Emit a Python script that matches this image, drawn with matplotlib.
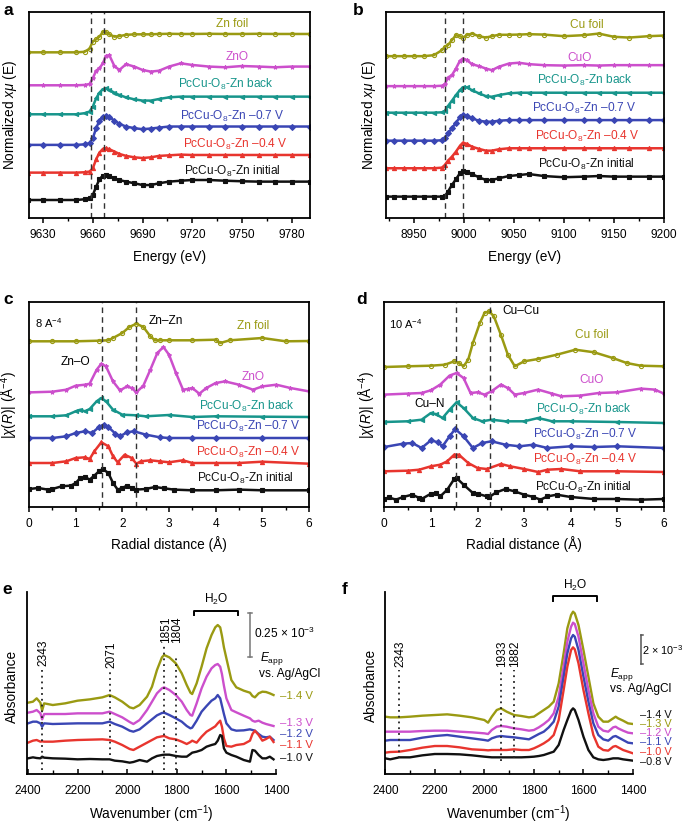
import matplotlib
matplotlib.use('Agg')
import matplotlib.pyplot as plt
from matplotlib.ticker import MultipleLocator

plt.rcParams['font.family'] = ['Liberation Sans', 'DejaVu Sans']
plt.rcParams['mathtext.fontset'] = 'custom'
plt.rcParams['mathtext.rm'] = 'Liberation Sans'
plt.rcParams['mathtext.it'] = 'Liberation Sans:italic'
plt.rcParams['mathtext.bf'] = 'Liberation Sans:bold'

OLIVE = '#9a9a12'
MAG = '#cc4fcc'
TEAL = '#17958b'
BLUE = '#3a46b4'
RED = '#e8352e'
BLACK = '#111111'

# ---------------- panel a: Zn K-edge XANES (normalized) ----------------
a_energy = [9621, 9630, 9640, 9650, 9655, 9658, 9660, 9662, 9664, 9666, 9668, 9670, 9673, 9676,
            9680, 9685, 9690, 9695, 9700, 9706, 9713, 9720, 9730, 9740, 9750, 9760, 9770, 9780, 9791]
a_zn_foil = [0, 0, 0, 0, 0.03, 0.2, 0.6, 0.72, 0.87, 1.12, 1.12, 1.0, 0.87, 0.9,
             0.97, 1.0, 1.0, 1.0, 1.02, 1.03, 1.02, 1.02, 1.03, 1.02, 1.02, 1.03, 1.02, 1.02, 1.02]
a_zno = [0, 0, 0, 0, 0.02, 0.07, 0.39, 0.81, 0.94, 1.22, 1.63, 1.66, 1.07, 0.85,
         1.17, 1.04, 0.85, 0.76, 0.81, 1.04, 1.22, 1.13, 1.04, 1.0, 1.07, 1.04, 1.0, 1.04, 1.04]
a_back = [0, 0, 0, 0, 0.06, 0.15, 0.43, 0.89, 1.2, 1.39, 1.44, 1.35, 1.2, 1.07,
          0.94, 0.83, 0.76, 0.76, 0.85, 0.94, 0.98, 0.98, 0.98, 0.98, 0.98, 0.98, 0.98, 0.98, 0.98]
a_m07 = [0, 0, 0, 0, 0.03, 0.09, 0.37, 0.93, 1.35, 1.57, 1.61, 1.54, 1.35, 1.17,
         1.02, 0.93, 0.87, 0.91, 0.96, 1.02, 1.02, 1.02, 1.02, 1.02, 1.02, 1.02, 1.02, 1.02, 1.02]
a_m04 = [0, 0, 0, 0, 0.02, 0.06, 0.24, 0.74, 1.11, 1.31, 1.35, 1.3, 1.17, 1.04,
         0.93, 0.85, 0.81, 0.85, 0.93, 0.96, 1.0, 0.98, 0.98, 0.98, 0.98, 0.98, 0.98, 0.98, 0.98]
a_initial = [0, 0, 0, 0, 0.04, 0.09, 0.28, 0.74, 1.15, 1.35, 1.39, 1.33, 1.2, 1.11,
             1.02, 0.93, 0.83, 0.83, 0.93, 1.02, 1.07, 1.11, 1.11, 1.07, 1.04, 1.02, 1.02, 1.02, 1.02]

# ---------------- panel b: Cu K-edge XANES (normalized) ----------------
b_energy = [8922, 8930, 8940, 8950, 8960, 8970, 8978, 8981, 8984, 8988, 8992, 8996, 8999, 9003, 9008,
            9015, 9022, 9028, 9035, 9045, 9055, 9065, 9080, 9100, 9120, 9135, 9150, 9165, 9185, 9200]
b_cu_foil = [0, 0, 0, 0, 0, 0.05, 0.3, 0.47, 0.55, 0.8, 1.05, 1.0, 0.93, 1.05, 1.13,
             1.0, 0.93, 1.0, 1.07, 1.07, 1.08, 1.1, 1.08, 1.0, 1.05, 1.13, 0.97, 0.93, 1.0, 1.03]
b_cuo = [0, 0, 0, 0, 0, 0, 0.02, 0.1, 0.43, 0.55, 0.88, 1.27, 1.38, 1.3, 1.1,
         1.0, 0.88, 0.8, 0.97, 1.13, 1.17, 1.1, 1.05, 1.03, 1.05, 1.03, 1.05, 1.05, 1.05, 1.05]
b_back = [0, 0, 0, 0, 0, 0, 0.02, 0.1, 0.33, 0.6, 0.88, 1.13, 1.27, 1.27, 1.13,
          0.97, 0.83, 0.8, 0.88, 0.97, 1.0, 1.0, 1.0, 1.0, 1.0, 1.0, 1.0, 1.0, 1.0, 1.0]
b_m07 = [0, 0, 0, 0, 0, 0, 0.02, 0.12, 0.37, 0.62, 0.9, 1.17, 1.28, 1.23, 1.12,
         1.0, 0.95, 0.95, 1.0, 1.03, 1.03, 1.03, 1.03, 1.03, 1.03, 1.03, 1.03, 1.03, 1.03, 1.03]
b_m04 = [0, 0, 0, 0, 0, 0, 0.03, 0.17, 0.38, 0.58, 0.83, 1.12, 1.28, 1.22, 1.08,
         0.97, 0.88, 0.88, 0.95, 1.0, 1.0, 1.0, 1.0, 1.0, 1.0, 1.0, 1.0, 1.0, 1.0, 1.0]
b_initial = [0, 0, 0, 0, 0, 0, 0, 0.03, 0.25, 0.58, 0.87, 1.17, 1.3, 1.25, 1.13,
             0.97, 0.83, 0.83, 0.92, 1.03, 1.08, 1.13, 1.03, 0.97, 1.0, 1.03, 1.0, 1.0, 1.0, 1.0]

# ---------------- panel c: Zn FT-EXAFS |chi(R)| ----------------
c_zn_foil_r = [0, 0.5, 1.0, 1.5, 1.7, 1.8, 2.0, 2.15, 2.3, 2.45, 2.6, 2.7, 2.8, 3.0, 3.5, 4.0, 4.1, 4.3, 5.0, 5.5, 6.0]
c_zn_foil = [0.17, 0.17, 0.17, 0.23, 0.27, 0.5, 1.0, 1.6, 1.93, 1.6, 0.67, 0.27, 0.27, 0.27, 0.27, 0.33, 0.0, 0.27, 0.5, 0.17, 0.2]
c_zno_r = [0, 0.5, 0.8, 1.0, 1.2, 1.3, 1.45, 1.55, 1.65, 1.8, 1.95, 2.1, 2.2, 2.3, 2.45, 2.6, 2.75, 2.88, 3.0,
           3.15, 3.3, 3.4, 3.5, 3.65, 3.8, 4.0, 4.2, 4.5, 4.8, 5.0, 5.3, 5.6, 6.0]
c_zno = [0.13, 0.2, 0.4, 0.8, 0.9, 1.0, 2.4, 3.0, 2.73, 1.23, 0.33, 0.73, 0.57, 0.13, 0.8, 2.4, 4.07, 4.67, 3.9,
         2.07, 0.4, 0.47, 0.57, 0.0, 0.57, 1.07, 1.23, 0.9, 0.4, 0.73, 0.9, 0.57, 0.23]
c_back_r = [0, 0.5, 0.8, 1.0, 1.1, 1.2, 1.3, 1.45, 1.55, 1.65, 1.8, 2.0, 2.3, 2.5, 3.0, 3.5, 4.0, 5.0, 6.0]
c_back = [0.07, 0.07, 0.17, 0.57, 0.73, 0.57, 0.8, 1.57, 1.9, 1.57, 0.73, 0.23, 0.17, 0.07, 0.2, 0.0, 0.07, 0.03, 0.0]
c_m07_r = [0, 0.5, 0.8, 1.0, 1.2, 1.35, 1.5, 1.6, 1.7, 1.85, 1.95, 2.1, 2.25, 2.5, 2.8, 3.0, 3.5, 4.0, 5.0, 6.0]
c_m07 = [0.03, 0.03, 0.2, 0.53, 0.7, 0.53, 1.13, 1.37, 1.13, 0.47, 0.2, 0.6, 0.7, 0.37, 0.1, 0.03, 0.03, 0.03, 0.03, 0.03]
c_m04_r = [0, 0.5, 0.8, 1.0, 1.2, 1.3, 1.4, 1.55, 1.7, 1.8, 1.9, 2.05, 2.2, 2.3, 2.4, 2.6, 2.8, 3.0, 3.3, 3.5,
           4.0, 4.5, 5.0, 6.0]
c_m04 = [0.1, 0.1, 0.27, 0.6, 0.67, 0.5, 1.27, 2.17, 1.77, 0.77, 0.17, 0.93, 0.6, 0.03, 0.27, 0.37, 0.27, 0.17, 0.37, 0.1,
         0.1, 0.1, 0.23, 0.03]
c_initial_r = [0, 0.2, 0.4, 0.5, 0.7, 0.9, 1.0, 1.1, 1.2, 1.3, 1.4, 1.5, 1.58, 1.7, 1.8, 1.9, 2.0, 2.1, 2.2, 2.3,
               2.5, 2.7, 2.9, 3.1, 3.5, 4.0, 4.5, 5.0, 6.0]
c_initial = [0.13, 0.23, 0.07, 0.13, 0.4, 0.47, 0.73, 1.23, 1.33, 1.07, 1.47, 1.9, 2.13, 1.73, 0.73, 0.07, 0.23, 0.47,
             0.23, 0.07, 0.13, 0.33, 0.2, 0.07, 0.0, 0.0, 0.07, 0.0, 0.0]

# ---------------- panel d: Cu FT-EXAFS |chi(R)| ----------------
d_cu_foil_r = [0, 0.5, 1.0, 1.3, 1.5, 1.6, 1.7, 1.8, 1.9, 2.05, 2.15, 2.25, 2.35, 2.5, 2.65, 2.8, 3.0, 3.3, 3.7,
               4.1, 4.5, 4.9, 5.2, 5.5, 6.0]
d_cu_foil = [0.0, 0.07, 0.13, 0.23, 0.57, 0.4, 0.07, 0.73, 2.4, 4.4, 5.4, 5.57, 5.07, 3.23, 1.23, 0.07, 0.57, 0.8, 1.23,
             1.73, 1.47, 0.9, 0.4, 0.13, 0.07]
d_cuo_r = [0, 0.5, 0.8, 1.0, 1.2, 1.4, 1.55, 1.7, 1.85, 2.0, 2.15, 2.3, 2.5, 2.65, 2.8, 3.0, 3.3, 3.6, 3.8, 4.2,
           4.6, 5.0, 5.5, 5.8, 6.0]
d_cuo = [0.17, 0.27, 0.33, 0.6, 1.17, 2.07, 2.33, 1.83, 0.33, 0.4, 0.17, 0.5, 1.17, 0.83, 0.17, 0.33, 0.67, 0.27, 0.0, 0.07,
         0.33, 0.4, 0.77, 0.67, 0.27]
d_back_r = [0, 0.5, 0.8, 1.0, 1.1, 1.25, 1.4, 1.55, 1.7, 1.9, 2.1, 2.3, 2.6, 3.0, 3.3, 3.6, 4.0, 5.0, 6.0]
d_back = [0.1, 0.17, 0.33, 1.0, 0.9, 0.5, 1.33, 2.07, 1.5, 0.5, 0.17, 0.33, 0.17, 0.17, 0.5, 0.17, 0.17, 0.1, 0.0]
d_m07_r = [0, 0.4, 0.6, 0.8, 1.0, 1.15, 1.25, 1.4, 1.52, 1.7, 1.9, 2.1, 2.3, 2.6, 2.9, 3.2, 3.5, 4.0, 4.5, 5.0, 6.0]
d_m07 = [0.1, 0.43, 0.5, 0.0, 0.77, 0.57, 0.17, 1.17, 1.9, 1.17, 0.0, 0.5, 0.67, 0.33, 0.17, 0.33, 0.0, 0.17, 0.1, 0.17, 0.0]
d_m04_r = [0, 0.5, 0.75, 1.0, 1.2, 1.35, 1.5, 1.6, 1.8, 2.0, 2.2, 2.5, 2.7, 3.0, 3.3, 3.5, 3.8, 4.2, 5.0, 6.0]
d_m04 = [0.07, 0.13, 0.23, 0.57, 0.73, 1.07, 1.73, 1.73, 0.9, 0.4, 0.3, 0.8, 0.57, 0.3, 0.0, 0.23, 0.3, 0.07, 0.07, 0.0]
d_initial_r = [0, 0.1, 0.25, 0.4, 0.6, 0.75, 0.8, 1.0, 1.1, 1.2, 1.35, 1.5, 1.55, 1.7, 1.9, 2.0, 2.2, 2.25, 2.4,
               2.6, 2.8, 3.0, 3.2, 3.35, 3.5, 3.7, 4.0, 4.5, 5.0, 5.5, 6.0]
d_initial = [0.07, 0.23, 0.0, 0.27, 0.5, 0.17, 0.07, 0.6, 0.67, 0.33, 1.0, 2.07, 2.17, 1.5, 0.67, 0.6, 0.33, 0.27, 0.73,
             1.07, 0.83, 0.5, 0.27, 0.0, 0.33, 0.5, 0.27, 0.07, 0.07, 0.0, 0.07]

# ---------------- panel e: IR spectra (a.u., stacked) ----------------
e_wn = [2400, 2380, 2365, 2350, 2343, 2335, 2300, 2250, 2200, 2150, 2100, 2071, 2050, 2020, 1990, 1975, 1950,
        1920, 1900, 1880, 1860, 1851, 1830, 1804, 1780, 1760, 1745, 1738, 1720, 1700, 1680, 1660, 1645, 1635,
        1625, 1618, 1610, 1600, 1580, 1560, 1530, 1505, 1495, 1485, 1470, 1455, 1440, 1425, 1410]
e_m14 = [21.4, 21.7, 22.7, 21.4, 19.0, 21.2, 20.7, 21.2, 22.0, 22.4, 23.0, 23.7, 23.0, 21.7, 20.0, 19.7, 20.7,
         23.2, 26.2, 31.2, 35.0, 35.7, 35.0, 33.2, 30.2, 26.7, 24.4, 24.0, 27.2, 32.2, 37.7, 41.7, 44.0, 44.7,
         44.0, 41.5, 38.0, 34.7, 28.2, 26.0, 25.0, 24.4, 23.4, 23.0, 24.2, 24.7, 24.6, 24.2, 23.7]
e_m13 = [18.4, 18.7, 19.2, 18.2, 16.4, 18.0, 18.0, 18.0, 18.2, 18.2, 18.2, 18.7, 18.0, 17.0, 15.6, 15.0, 16.2,
         19.2, 21.7, 24.2, 25.7, 26.0, 25.2, 23.7, 21.7, 19.2, 17.7, 17.5, 21.2, 25.7, 29.2, 31.7, 32.7, 33.0,
         32.2, 30.0, 26.5, 22.7, 19.2, 18.5, 17.5, 16.7, 16.0, 15.7, 16.0, 15.4, 15.0, 14.7, 14.4]
e_m12 = [15.2, 15.7, 15.7, 15.2, 14.2, 15.2, 15.0, 15.1, 15.2, 15.2, 15.2, 15.7, 15.0, 14.2, 13.0, 12.7, 13.4,
         15.2, 16.4, 17.6, 18.3, 18.4, 17.7, 16.7, 15.7, 14.4, 13.7, 13.9, 16.0, 18.7, 20.4, 22.0, 22.7, 23.7,
         22.7, 20.5, 18.0, 15.2, 13.4, 13.0, 13.1, 13.4, 13.2, 13.0, 12.0, 11.2, 11.0, 11.2, 10.2]
e_m11 = [9.4, 10.0, 10.2, 9.7, 9.8, 9.7, 9.7, 10.0, 10.2, 10.3, 10.4, 10.2, 9.7, 8.7, 7.5, 7.2, 8.2,
         9.4, 10.2, 11.0, 11.3, 11.4, 10.7, 10.4, 9.7, 9.0, 9.6, 10.0, 9.4, 11.2, 12.7, 13.6, 14.3, 15.2,
         16.0, 14.2, 10.7, 8.4, 8.2, 8.7, 9.0, 10.0, 12.0, 13.0, 11.7, 10.0, 10.5, 11.2, 9.6]
e_m10 = [4.7, 5.0, 4.8, 4.7, 5.2, 4.9, 4.7, 4.6, 4.4, 4.5, 4.4, 4.4, 4.0, 3.8, 3.4, 3.6, 4.2,
         3.7, 4.7, 5.4, 5.7, 5.8, 5.8, 5.4, 5.2, 5.2, 6.0, 6.4, 6.7, 7.2, 8.2, 8.7, 9.0, 10.0,
         11.7, 11.4, 7.7, 6.4, 5.7, 5.2, 4.2, 3.7, 7.2, 7.0, 5.7, 4.7, 4.7, 5.2, 4.4]
e_labels = ['\u20131.4 V', '\u20131.3 V', '\u20131.2 V', '\u20131.1 V', '\u20131.0 V']
e_bands = [2343, 2071, 1851, 1804]

# ---------------- panel f: IR spectra (a.u., stacked) ----------------
f_wn = [2400, 2380, 2343, 2300, 2250, 2200, 2150, 2100, 2050, 2000, 1985, 1970, 1950, 1933, 1910, 1880, 1850,
        1820, 1800, 1780, 1760, 1740, 1720, 1700, 1680, 1665, 1650, 1642, 1635, 1620, 1600, 1580, 1560, 1540,
        1520, 1500, 1480, 1470, 1460, 1440, 1420, 1400]
f_top = [17.2, 17.0, 17.0, 17.2, 17.5, 17.7, 17.9, 17.5, 17.0, 16.2, 15.4, 17.2, 19.2, 19.7, 18.7, 17.7, 17.4,
         17.0, 17.2, 18.2, 19.2, 20.2, 21.7, 27.2, 36.2, 43.7, 47.7, 48.7, 48.2, 44.7, 37.2, 29.2, 21.2, 17.2,
         15.7, 15.7, 16.7, 17.2, 16.7, 16.0, 15.2, 15.0]
f_second = [12.7, 12.7, 12.7, 12.7, 12.9, 13.0, 13.0, 12.7, 12.5, 12.2, 12.0, 13.2, 14.2, 14.4, 14.2, 13.7, 13.4,
            13.0, 13.2, 14.0, 15.0, 16.2, 18.2, 23.2, 32.2, 39.7, 44.2, 45.4, 45.0, 41.2, 33.2, 25.2, 18.2, 14.2,
            13.0, 12.7, 14.0, 14.2, 13.7, 13.0, 12.4, 12.2]
f_third = [10.0, 10.2, 10.2, 10.2, 10.9, 11.4, 11.7, 11.2, 10.7, 10.2, 10.0, 10.7, 11.2, 11.4, 11.2, 11.0, 10.7,
           10.4, 11.2, 12.0, 12.7, 14.0, 15.7, 20.2, 29.2, 36.2, 40.7, 41.7, 41.2, 37.2, 29.2, 21.7, 15.2, 11.7,
           10.4, 10.0, 11.2, 11.4, 11.0, 10.2, 9.4, 9.2]
f_fourth = [6.4, 6.6, 6.7, 7.2, 7.9, 8.4, 8.4, 8.0, 7.4, 7.2, 7.1, 7.2, 7.2, 7.2, 7.2, 7.4, 7.2,
            7.2, 7.7, 8.4, 9.2, 10.2, 11.7, 16.2, 25.2, 32.2, 37.2, 38.0, 37.4, 33.2, 25.2, 18.2, 11.7, 8.2,
            7.2, 7.0, 8.2, 8.4, 8.0, 7.2, 6.7, 6.2]
f_bottom = [4.7, 4.4, 5.0, 5.0, 5.6, 6.0, 6.0, 5.9, 5.6, 5.2, 5.1, 5.0, 5.0, 5.0, 5.0, 5.0, 5.0,
            5.1, 5.2, 5.4, 5.7, 6.2, 6.7, 8.7, 13.2, 16.2, 19.0, 19.7, 19.2, 16.2, 11.2, 7.2, 5.0, 4.4,
            4.2, 4.4, 4.7, 4.7, 4.7, 4.4, 4.2, 4.0]
f_labels = ['\u20131.4 V', '\u20131.3 V', '\u20131.2 V', '\u20131.1 V', '\u20131.0 V', '\u20130.8 V']
f_bands = [2343, 1933, 1882]

xas_names_zn = ['Zn foil', 'ZnO', 'PcCu-O$_8$-Zn back', 'PcCu-O$_8$-Zn \u20130.7 V',
                'PcCu-O$_8$-Zn \u20130.4 V', 'PcCu-O$_8$-Zn initial']
xas_names_cu = ['Cu foil', 'CuO', 'PcCu-O$_8$-Zn back', 'PcCu-O$_8$-Zn \u20130.7 V',
                'PcCu-O$_8$-Zn \u20130.4 V', 'PcCu-O$_8$-Zn initial']

COLORS6 = [OLIVE, MAG, TEAL, BLUE, RED, BLACK]
MARKERS6 = ['o', '*', '<', 'D', '^', 's']

FS_TICK = 8.6
FS_LAB = 9.8
FS_TXT = 8.6

fig = plt.figure(figsize=(6.85, 8.27), dpi=100)

def style_box(ax):
    for s in ax.spines.values():
        s.set_linewidth(1.3)
    ax.tick_params(axis='x', which='major', direction='out', length=3.5, width=1.1, pad=4.5, labelsize=FS_TICK)
    ax.tick_params(axis='x', which='minor', direction='out', length=2.2, width=1.0)
    ax.tick_params(axis='y', which='both', left=False, labelleft=False)

def plot_stack(ax, xs, ys, offsets, ms=3.0):
    for x, y, off, c, m in zip(xs, ys, offsets, COLORS6, MARKERS6):
        yy = [v + off for v in y]
        mfc = 'none' if m == 'o' else c
        ax.plot(x, yy, color=c, lw=1.8, marker=m, ms=ms, mfc=mfc, mec=c, mew=0.8)

# ---- a ----
axa = fig.add_axes([29/685, 1-218/827, 281/685, 206/827])
off_a = [8.2, 6.37, 4.76, 3.06, 1.52, 0.0]
plot_stack(axa, [a_energy]*6, [a_zn_foil, a_zno, a_back, a_m07, a_m04, a_initial], off_a)
axa.set_xlim(9621.5, 9791)
axa.set_ylim(-1.0, 10.44)
for xv in (9659, 9667):
    axa.axvline(xv, color='#333333', ls=(0, (4, 3)), lw=1.0)
axa.xaxis.set_major_locator(MultipleLocator(30))
axa.xaxis.set_minor_locator(MultipleLocator(15))
style_box(axa)
lab_a = [(9744, 9.78), (9747, 7.96), (9740, 6.39), (9744, 4.63), (9746, 3.06), (9744, 1.57)]
for (x, y), t, c in zip(lab_a, xas_names_zn, COLORS6):
    axa.text(x, y, t, color=c, fontsize=FS_TXT, ha='center', va='center')
axa.set_xlabel('Energy (eV)', fontsize=FS_LAB)
axa.set_ylabel('Normalized $x\\mu$ (E)', fontsize=FS_LAB)
axa.xaxis.set_label_coords(0.5, -0.155)
axa.yaxis.set_label_coords(-0.035, 0.5)

# ---- b ----
axb = fig.add_axes([385.7/685, 1-218/827, 278.3/685, 206/827])
off_b = [7.03, 5.53, 4.2, 2.8, 1.42, 0.0]
plot_stack(axb, [b_energy]*6, [b_cu_foil, b_cuo, b_back, b_m07, b_m04, b_initial], off_b)
axb.set_xlim(8921.7, 9200.3)
axb.set_ylim(-1.07, 9.24)
for xv in (8981, 8999):
    axb.axvline(xv, color='#333333', ls=(0, (4, 3)), lw=1.0)
axb.xaxis.set_major_locator(MultipleLocator(50))
axb.xaxis.set_minor_locator(MultipleLocator(25))
style_box(axb)
lab_b = [(9123, 8.58), (9116, 6.92), (9121, 5.8), (9121, 4.42), (9124, 3.03), (9123, 1.63)]
for (x, y), t, c in zip(lab_b, xas_names_cu, COLORS6):
    axb.text(x, y, t, color=c, fontsize=FS_TXT, ha='center', va='center')
axb.set_xlabel('Energy (eV)', fontsize=FS_LAB)
axb.set_ylabel('Normalized $x\\mu$ (E)', fontsize=FS_LAB)
axb.xaxis.set_label_coords(0.5, -0.155)
axb.yaxis.set_label_coords(-0.028, 0.5)

# ---- c ----
axc = fig.add_axes([29/685, 1-507/827, 280/685, 205/827])
off_c = [16.4, 11.33, 9.0, 6.87, 4.3, 1.67]
plot_stack(axc, [c_zn_foil_r, c_zno_r, c_back_r, c_m07_r, c_m04_r, c_initial_r],
           [c_zn_foil, c_zno, c_back, c_m07, c_m04, c_initial], off_c)
axc.set_xlim(0, 6)
axc.set_ylim(0, 20.5)
for xv in (1.56, 2.29):
    axc.axvline(xv, color='#333333', ls=(0, (4, 3)), lw=1.0)
axc.xaxis.set_major_locator(MultipleLocator(1))
axc.xaxis.set_minor_locator(MultipleLocator(0.5))
style_box(axc)
lab_c = [(4.81, 18.1), (4.81, 13.0), (4.66, 10.07), (4.7, 8.07), (4.7, 5.47), (4.63, 2.9)]
for (x, y), t, c in zip(lab_c, xas_names_zn, COLORS6):
    axc.text(x, y, t, color=c, fontsize=FS_TXT, ha='center', va='center')
axc.text(0.13, 18.4, '8 A$^{-4}$', fontsize=FS_TXT - 0.6, ha='left', va='center')
axc.text(2.56, 18.57, 'Zn\u2013Zn', fontsize=FS_TXT, ha='left', va='center')
axc.text(0.99, 14.5, 'Zn\u2013O', fontsize=FS_TXT, ha='center', va='center')
axc.set_xlabel('Radial distance (\u00c5)', fontsize=FS_LAB)
axc.set_ylabel('$|\\chi(R)|$ (\u00c5$^{-4}$)', fontsize=FS_LAB)
axc.xaxis.set_label_coords(0.5, -0.14)
axc.yaxis.set_label_coords(-0.032, 0.5)

# ---- d ----
axd = fig.add_axes([384.3/685, 1-507/827, 279.7/685, 205/827])
off_d = [14.0, 11.07, 8.4, 5.9, 3.5, 0.73]
plot_stack(axd, [d_cu_foil_r, d_cuo_r, d_back_r, d_m07_r, d_m04_r, d_initial_r],
           [d_cu_foil, d_cuo, d_back, d_m07, d_m04, d_initial], off_d)
axd.set_xlim(0, 6)
axd.set_ylim(0, 20.5)
for xv in (1.54, 2.26):
    axd.axvline(xv, color='#333333', ls=(0, (4, 3)), lw=1.0)
axd.xaxis.set_major_locator(MultipleLocator(1))
axd.xaxis.set_minor_locator(MultipleLocator(0.5))
style_box(axd)
lab_d = [(4.45, 17.2), (4.45, 12.7), (4.27, 9.73), (4.31, 7.23), (4.31, 4.8), (4.27, 2.0)]
for (x, y), t, c in zip(lab_d, xas_names_cu, COLORS6):
    axd.text(x, y, t, color=c, fontsize=FS_TXT, ha='center', va='center')
axd.text(0.11, 18.3, '10 A$^{-4}$', fontsize=FS_TXT - 0.6, ha='left', va='center')
axd.text(2.54, 19.6, 'Cu\u2013Cu', fontsize=FS_TXT, ha='left', va='center')
axd.text(0.98, 10.3, 'Cu\u2013N', fontsize=FS_TXT, ha='center', va='center')
axd.set_xlabel('Radial distance (\u00c5)', fontsize=FS_LAB)
axd.set_ylabel('$|\\chi(R)|$ (\u00c5$^{-4}$)', fontsize=FS_LAB)
axd.xaxis.set_label_coords(0.5, -0.14)
axd.yaxis.set_label_coords(-0.022, 0.5)

# ---- e / f shared style ----
def style_ir(ax):
    ax.spines['top'].set_visible(False)
    ax.spines['right'].set_visible(False)
    ax.spines['left'].set_linewidth(1.3)
    ax.spines['bottom'].set_linewidth(1.3)
    ax.xaxis.set_major_locator(MultipleLocator(200))
    ax.xaxis.set_minor_locator(MultipleLocator(100))
    ax.tick_params(axis='x', which='major', direction='in', length=3.5, width=1.1, pad=8, labelsize=FS_TICK)
    ax.tick_params(axis='x', which='minor', direction='in', length=3.0, width=1.0)
    ax.tick_params(axis='y', which='both', left=False, labelleft=False)
    ax.set_ylim(0, 54.7)
    ax.set_xlabel('Wavenumber (cm$^{-1}$)', fontsize=FS_LAB)
    ax.set_ylabel('Absorbance', fontsize=FS_LAB)
    ax.xaxis.set_label_coords(0.5, -0.16)

IR5 = [OLIVE, MAG, BLUE, RED, BLACK]

# ---- e ----
axe = fig.add_axes([27/685, 53/827, 249/685, 182.3/827])
for y, c in zip([e_m14, e_m13, e_m12, e_m11, e_m10], IR5):
    axe.plot(e_wn, y, color=c, lw=1.7)
axe.set_xlim(2404, 1400)
style_ir(axe)
axe.yaxis.set_label_coords(-0.034, 0.479)
band_e = [(1.2, 31.2, 31.7), (5.7, 31.2, 31.2), (1.2, 38.4, 38.6), (1.2, 35.4, 38.6)]
for wn, (y0, y1, yt) in zip(e_bands, band_e):
    axe.plot([wn, wn], [y0, y1], color='#222222', ls=(0, (1, 2.2)), lw=1.3)
    axe.text(wn - 6, yt + 0.6, str(wn), rotation=90, fontsize=FS_TXT, ha='center', va='bottom')
# H2O bracket
axe.plot([1730, 1730, 1552, 1552], [47.7, 49.0, 49.0, 47.7], color='black', lw=1.4, clip_on=False)
axe.text(1641, 50.2, 'H$_2$O', fontsize=FS_TXT, ha='center', va='bottom')
# scale bar
axe.plot([1505, 1505], [35.0, 48.2], color='#777777', lw=1.1, clip_on=False)
axe.plot([1512, 1498], [35.0, 35.0], color='#777777', lw=1.1, clip_on=False)
axe.plot([1512, 1498], [48.2, 48.2], color='#777777', lw=1.1, clip_on=False)
axe.text(1488, 42.2, '0.25 \u00d7 10$^{-3}$', fontsize=FS_TXT, ha='left', va='center', clip_on=False)
axe.text(1464, 34.6, '$E_\\mathrm{app}$', fontsize=FS_TXT, ha='left', va='center')
axe.text(1467, 30.0, 'vs. Ag/AgCl', fontsize=FS_TXT, ha='left', va='center')
lab_e_y = [23.4, 15.3, 12.0, 8.7, 4.7]
for t, yv, c in zip(e_labels, lab_e_y, IR5):
    axe.text(1382, yv, t, color=c, fontsize=8.2, ha='left', va='center', clip_on=False)

# ---- f ----
axf = fig.add_axes([384.5/685, 53/827, 248.5/685, 182.3/827])
for y, c in zip([f_top, f_second, f_third, f_fourth, f_bottom], IR5):
    axf.plot(f_wn, y, color=c, lw=1.7)
axf.set_xlim(2403, 1400)
style_ir(axf)
axf.yaxis.set_label_coords(-0.026, 0.488)
band_f = [(4.7, 31.2, 32.0), (4.0, 31.2, 32.0), (4.7, 31.2, 32.0)]
for wn, (y0, y1, yt) in zip(f_bands, band_f):
    axf.plot([wn, wn], [y0, y1], color='#222222', ls=(0, (1, 2.2)), lw=1.3)
    axf.text(wn - 4, yt, str(wn), rotation=90, fontsize=FS_TXT, ha='center', va='bottom')
axf.plot([1723, 1723, 1544, 1544], [52.0, 53.4, 53.4, 52.0], color='black', lw=1.4, clip_on=False)
axf.text(1632, 54.4, 'H$_2$O', fontsize=FS_TXT, ha='center', va='bottom', clip_on=False)
axf.plot([1368, 1368], [33.0, 41.7], color='#555555', lw=1.1, clip_on=False)
axf.plot([1368, 1360], [33.0, 33.0], color='#555555', lw=1.1, clip_on=False)
axf.plot([1368, 1360], [41.7, 41.7], color='#555555', lw=1.1, clip_on=False)
axf.text(1362, 37.2, '2 \u00d7 10$^{-3}$', fontsize=7.8, ha='left', va='center', clip_on=False)
axf.text(1492, 29.8, '$E_\\mathrm{app}$', fontsize=FS_TXT, ha='left', va='center', clip_on=False)
axf.text(1494, 25.5, 'vs. Ag/AgCl', fontsize=FS_TXT, ha='left', va='center', clip_on=False)
lab_f_y = [17.6, 15.0, 12.4, 9.7, 6.6, 3.5]
lab_f_c = [BLACK, OLIVE, MAG, BLUE, RED, BLACK]
for t, yv, c in zip(f_labels, lab_f_y, lab_f_c):
    axf.text(1373, yv, t, color=c, fontsize=7.9, ha='left', va='center', clip_on=False)

# panel letters
for t, x, y in [('a', 3, 15), ('b', 353, 15), ('c', 3, 304), ('d', 356, 304), ('e', 2, 594), ('f', 342, 594)]:
    fig.text(x/685, 1 - y/827, t, fontsize=12.5, fontweight='bold', ha='left', va='baseline')

fig.savefig('out.png', dpi=100)
